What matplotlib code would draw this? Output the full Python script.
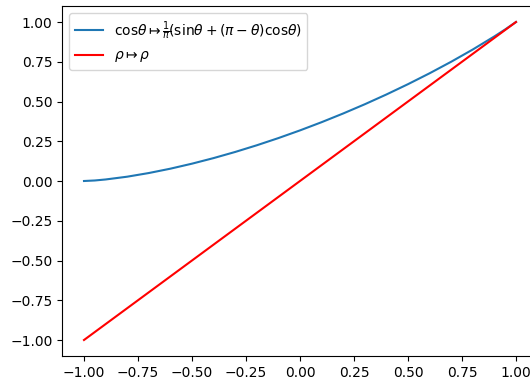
import matplotlib
matplotlib.use("Agg")
import matplotlib.pyplot as plt

rho = [-1.0, -0.95, -0.9, -0.8, -0.7, -0.6, -0.5, -0.4, -0.3, -0.2, -0.1,
       0.0, 0.1, 0.2, 0.3, 0.4, 0.5, 0.6, 0.7, 0.8, 0.9, 0.95, 1.0]
f_vals = [0.0, 0.0033, 0.0096, 0.0271, 0.0501, 0.0775, 0.1090, 0.1441, 0.1827,
          0.2247, 0.2699, 0.3183, 0.3699, 0.4247, 0.4827, 0.5441, 0.6090,
          0.6775, 0.7501, 0.8271, 0.9095, 0.9533, 1.0]
line_x = [-1.0, 1.0]
line_y = [-1.0, 1.0]

fig = plt.figure(figsize=(5.30, 3.79), dpi=100)
ax = fig.add_axes([62.4 / 530, 23.1 / 379, 475.2 / 530, 349.8 / 379])
ax.plot(rho, f_vals, color="#1f77b4",
        label=r"$\mathrm{cos}\theta{\mapsto}\frac{1}{\pi}\!(\mathrm{sin}\theta + (\pi - \theta)\mathrm{cos}\theta)$")
ax.plot(line_x, line_y, color="red", label=r"$\rho{\mapsto}\rho$")
ax.set_xticks([-1.0, -0.75, -0.5, -0.25, 0.0, 0.25, 0.5, 0.75, 1.0])
ax.set_yticks([-1.0, -0.75, -0.5, -0.25, 0.0, 0.25, 0.5, 0.75, 1.0])
ax.legend(loc="upper left")
fig.savefig("out.png", dpi=100)
